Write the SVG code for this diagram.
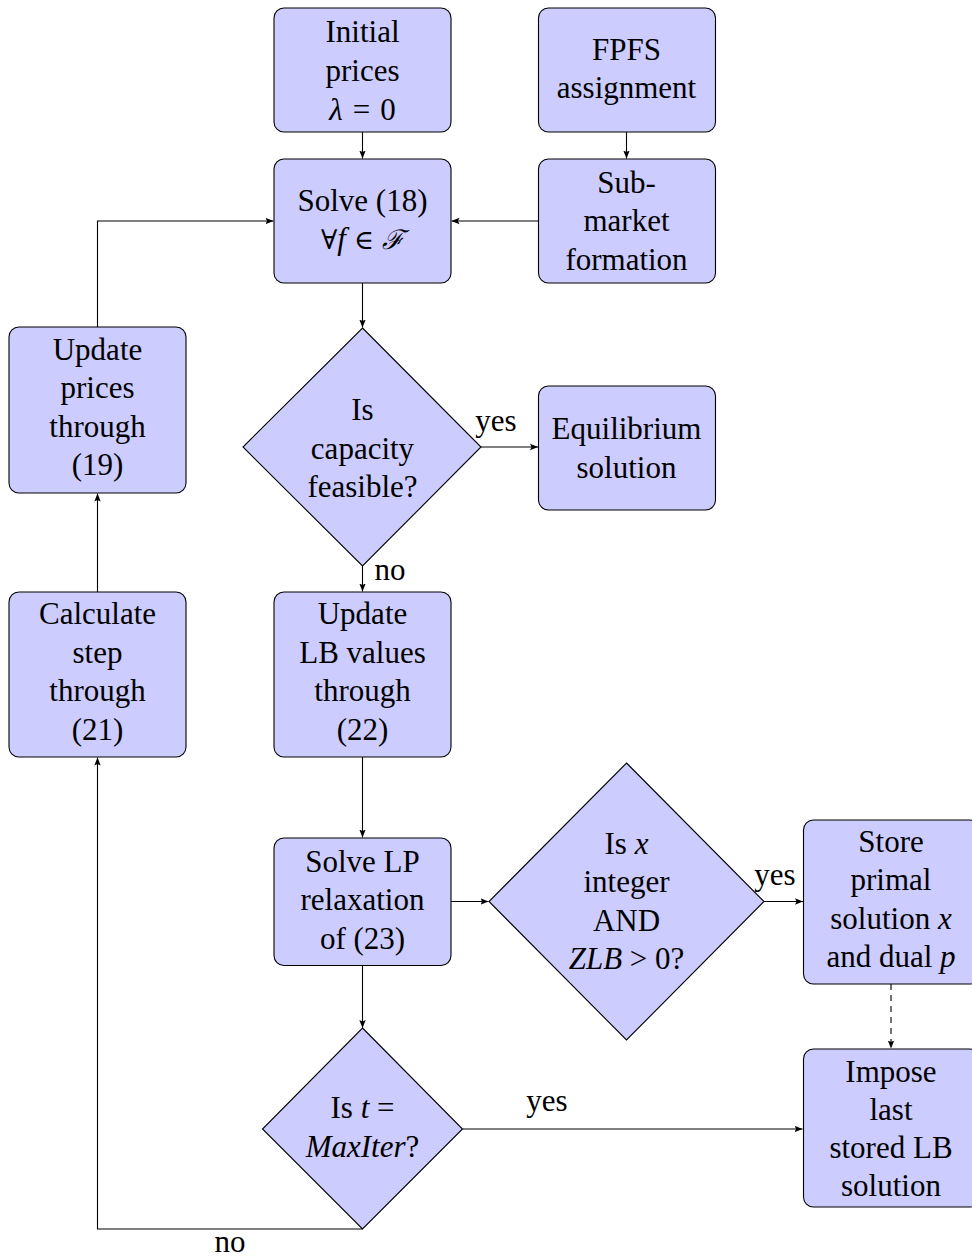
<svg xmlns="http://www.w3.org/2000/svg" width="972" height="1258" viewBox="0 0 972 1258">
<style>
.n{fill:#ccccff;stroke:#000;stroke-width:1.1}
.t{font-family:"Liberation Serif","Times New Roman",serif;font-size:31px;fill:#000;text-anchor:middle}
.i{font-style:italic}
.m{font-family:"DejaVu Serif",serif;font-size:27px}
.c{fill:none;stroke:#000;stroke-width:1.1}
.d{stroke-dasharray:6,5}
</style>
<defs>
<marker id="a" viewBox="0 0 10 10" refX="10" refY="5" markerWidth="8" markerHeight="8" markerUnits="userSpaceOnUse" orient="auto">
<path d="M0,1 L10,5 L0,9 L2,5 Z" fill="#000"/>
</marker>
</defs>
<rect width="972" height="1258" fill="#fff"/>
<g id="connectors">
<path class="c" d="M362.5,132 V158.5" marker-end="url(#a)"/>
<path class="c" d="M626.5,132 V158.5" marker-end="url(#a)"/>
<path class="c" d="M538.5,221 H451.5" marker-end="url(#a)"/>
<path class="c" d="M362.5,283 V327.5" marker-end="url(#a)"/>
<path class="c" d="M481,447 H538" marker-end="url(#a)"/>
<path class="c" d="M362.5,566 V591.5" marker-end="url(#a)"/>
<path class="c" d="M97.5,327 V221 H273.5" marker-end="url(#a)"/>
<path class="c" d="M97.5,592 V493.5" marker-end="url(#a)"/>
<path class="c" d="M362.5,757 V837.5" marker-end="url(#a)"/>
<path class="c" d="M451,901.5 H488.5" marker-end="url(#a)"/>
<path class="c" d="M764,901.5 H803" marker-end="url(#a)"/>
<path class="c d" d="M891,984 V1048.5" marker-end="url(#a)"/>
<path class="c" d="M362.5,965.5 V1028" marker-end="url(#a)"/>
<path class="c" d="M462.5,1129 H802.5" marker-end="url(#a)"/>
<path class="c" d="M362.5,1229 H97.5 V757.5" marker-end="url(#a)"/>
<text class="t" x="496" y="431">yes</text>
<text class="t" x="390" y="580">no</text>
<text class="t" x="775" y="885">yes</text>
<text class="t" x="547" y="1111">yes</text>
<text class="t" x="230" y="1252">no</text>
</g>
<g id="initial">
<rect class="n" x="274" y="8" width="177" height="124" rx="10"/>
<text class="t" x="362.5" y="42">Initial</text>
<text class="t" x="362.5" y="81">prices</text>
<text class="t" x="362.5" y="120"><tspan class="i">λ</tspan><tspan dx="10">=</tspan><tspan dx="10">0</tspan></text>
</g>
<g id="fpfs">
<rect class="n" x="538.5" y="8" width="177" height="124" rx="10"/>
<text class="t" x="626.5" y="60">FPFS</text>
<text class="t" x="626.5" y="98">assignment</text>
</g>
<g id="solve18">
<rect class="n" x="274" y="159" width="177" height="124" rx="10"/>
<text class="t" x="362.5" y="211">Solve (18)</text>
<text class="t" x="362.5" y="249"><tspan class="m">∀</tspan><tspan class="i">f</tspan><tspan class="m" dx="8">∈</tspan><tspan class="m i" dx="8">ℱ</tspan></text>
</g>
<g id="submarket">
<rect class="n" x="538.5" y="159" width="177" height="124" rx="10"/>
<text class="t" x="626.5" y="193">Sub-</text>
<text class="t" x="626.5" y="231">market</text>
<text class="t" x="626.5" y="270">formation</text>
</g>
<g id="updateprices">
<rect class="n" x="9" y="327" width="177" height="166" rx="10"/>
<text class="t" x="97.5" y="360">Update</text>
<text class="t" x="97.5" y="398">prices</text>
<text class="t" x="97.5" y="437">through</text>
<text class="t" x="97.5" y="475">(19)</text>
</g>
<g id="capacity">
<polygon class="n" points="362.5,328 481,447 362.5,566 243,447"/>
<text class="t" x="362.5" y="420">Is</text>
<text class="t" x="362.5" y="459">capacity</text>
<text class="t" x="362.5" y="497">feasible?</text>
</g>
<g id="equilibrium">
<rect class="n" x="538.5" y="386" width="177" height="124" rx="10"/>
<text class="t" x="626.5" y="439">Equilibrium</text>
<text class="t" x="626.5" y="478">solution</text>
</g>
<g id="calcstep">
<rect class="n" x="9" y="592" width="177" height="165" rx="10"/>
<text class="t" x="97.5" y="624">Calculate</text>
<text class="t" x="97.5" y="663">step</text>
<text class="t" x="97.5" y="701">through</text>
<text class="t" x="97.5" y="740">(21)</text>
</g>
<g id="updatelb">
<rect class="n" x="274" y="592" width="177" height="165" rx="10"/>
<text class="t" x="362.5" y="624">Update</text>
<text class="t" x="362.5" y="663">LB values</text>
<text class="t" x="362.5" y="701">through</text>
<text class="t" x="362.5" y="740">(22)</text>
</g>
<g id="solvelp">
<rect class="n" x="274" y="838" width="177" height="127.5" rx="10"/>
<text class="t" x="362.5" y="872">Solve LP</text>
<text class="t" x="362.5" y="910">relaxation</text>
<text class="t" x="362.5" y="949">of (23)</text>
</g>
<g id="integer">
<polygon class="n" points="626.5,763 764,901.5 626.5,1040 489,901.5"/>
<text class="t" x="626.5" y="854">Is <tspan class="i">x</tspan></text>
<text class="t" x="626.5" y="892">integer</text>
<text class="t" x="626.5" y="931">AND</text>
<text class="t" x="626.5" y="969"><tspan class="i">ZLB</tspan> &gt; 0?</text>
</g>
<g id="store">
<rect class="n" x="803.5" y="820" width="176" height="164" rx="10"/>
<text class="t" x="891" y="852">Store</text>
<text class="t" x="891" y="890">primal</text>
<text class="t" x="891" y="929">solution <tspan class="i">x</tspan></text>
<text class="t" x="891" y="967">and dual <tspan class="i">p</tspan></text>
</g>
<g id="maxiter">
<polygon class="n" points="362.5,1028 462.5,1129 362.5,1229 262.5,1129"/>
<text class="t" x="362.5" y="1118">Is <tspan class="i">t</tspan> =</text>
<text class="t" x="362.5" y="1157"><tspan class="i">MaxIter</tspan>?</text>
</g>
<g id="impose">
<rect class="n" x="803.5" y="1049" width="176" height="158" rx="10"/>
<text class="t" x="891" y="1082">Impose</text>
<text class="t" x="891" y="1120">last</text>
<text class="t" x="891" y="1158">stored LB</text>
<text class="t" x="891" y="1196">solution</text>
</g>
</svg>
